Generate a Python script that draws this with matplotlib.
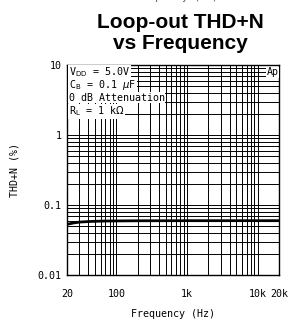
import numpy as np
import matplotlib
matplotlib.use("Agg")
import matplotlib.pyplot as plt
from matplotlib.ticker import FixedLocator, NullFormatter, NullLocator

# Data
freq_hz = [20, 25, 30, 40, 50, 70, 100, 200, 500, 1000, 2000, 5000, 10000, 20000]
thdn_pct = [0.053, 0.0555, 0.057, 0.058, 0.0585, 0.059, 0.0592, 0.0595, 0.0596, 0.0597, 0.0597, 0.0597, 0.0597, 0.0597]

x_ticks = [20, 100, 1000, 10000, 20000]
x_labels = ["20", "100", "1k", "10k", "20k"]
y_ticks = [0.01, 0.1, 1, 10]
y_labels = ["0.01", "0.1", "1", "10"]

title = "Loop-out THD+N\nvs Frequency"
xlabel = "Frequency (Hz)"
ylabel = "THD+N (%)"
notes = [r"V$_{\rm DD}$ = 5.0V", r"C$_{\rm B}$ = 0.1 $\mu$F", "0 dB Attenuation", r"R$_{\rm L}$ = 1 k$\Omega$"]

SMALL = ['DejaVu Sans Mono']
FS = 7.2
plt.rcParams['font.family'] = SMALL
plt.rcParams['mathtext.fontset'] = 'dejavusans'
fig = plt.figure(figsize=(2.94, 3.22), dpi=100)
ax = fig.add_axes([67/294, 47/322, 212/294, 210/322])

ax.set_xscale('log')
ax.set_yscale('log')
ax.set_xlim(20, 20000)
ax.set_ylim(0.01, 10)

# grid lines
xminor = [m * 10**e for e in range(1, 5) for m in range(1, 10)]
xminor = [v for v in xminor if 20 < v < 20000]
yminor = [m * 10**e for e in range(-2, 1) for m in range(1, 10)]
yminor = [v for v in yminor if 0.01 < v < 10]
for v in xminor:
    ax.axvline(v, color='black', lw=0.7, zorder=1)
for v in yminor:
    ax.axhline(v, color='black', lw=0.7, zorder=1)

ax.plot(freq_hz, thdn_pct, color='black', lw=2.0, zorder=3)

ax.xaxis.set_major_locator(FixedLocator(x_ticks))
ax.set_xticklabels(x_labels)
ax.xaxis.set_minor_locator(NullLocator())
ax.yaxis.set_major_locator(FixedLocator(y_ticks))
ax.set_yticklabels(y_labels)
ax.yaxis.set_minor_locator(NullLocator())
ax.tick_params(axis='x', length=0, pad=10, labelsize=FS)
ax.tick_params(axis='y', length=0, pad=4, labelsize=FS)
for s in ax.spines.values():
    s.set_linewidth(1.0)
    s.set_color('black')

ax.set_xlabel(xlabel, fontsize=FS, labelpad=7)
ax.set_ylabel(ylabel, fontsize=FS, labelpad=13)

# annotations
ys = [0.965, 0.905, 0.845, 0.78]
for t, y in zip(notes, ys):
    ax.text(0.008, y, t, transform=ax.transAxes, fontsize=FS, va='center', ha='left',
            bbox=dict(facecolor='white', edgecolor='none', pad=0.6), zorder=4)
ax.text(0.997, 0.965, "Ap", transform=ax.transAxes, fontsize=FS, va='center', ha='right',
        bbox=dict(facecolor='white', edgecolor='none', pad=0.6), zorder=4)

fig.text(180/294, 1 - 33/322, title, ha='center', va='center', fontsize=15,
         fontweight='bold', family=['Liberation Sans'], linespacing=1.12)
fig.text(176/294, 1 + 3/322, xlabel, ha='center', va='center', fontsize=FS, color='#555555')

fig.savefig("out.png", dpi=100)
